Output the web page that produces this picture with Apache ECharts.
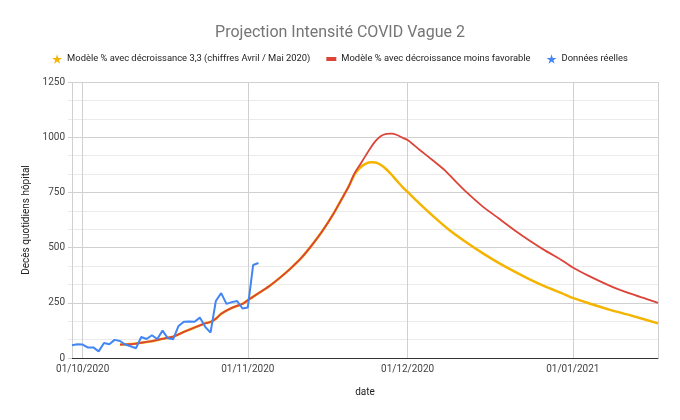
<!DOCTYPE html>
<html>
<head>
<meta charset="utf-8">
<script src="https://cdn.jsdelivr.net/npm/echarts@6/dist/echarts.min.js"></script>
<style>
  html, body { margin: 0; padding: 0; background: #fff; }
  #chart { width: 680px; height: 420px; }
</style>
</head>
<body>
<div id="chart"></div>
<script>
// observed data, one value per day starting 29/09/2020
const realStart = "2020-09-29";
const realValues = [
  58, 62, 61, 47, 48, 30, 68, 62, 82, 77, 61, 53, 44, 95, 86, 103, 86, 124,
  89, 85, 145, 164, 165, 164, 183, 141, 115, 258, 294, 245, 253, 258, 224,
  229, 421, 430,
];

// both models follow the same curve until ~20/11
const modelSharedDates = [
  "2020-10-08", "2020-10-10", "2020-10-12", "2020-10-14", "2020-10-16",
  "2020-10-18", "2020-10-20", "2020-10-22", "2020-10-24", "2020-10-25",
  "2020-10-26", "2020-10-27", "2020-10-29", "2020-10-31", "2020-11-01",
  "2020-11-03", "2020-11-05", "2020-11-07", "2020-11-09", "2020-11-11",
  "2020-11-13", "2020-11-15", "2020-11-17", "2020-11-19", "2020-11-20",
];
const modelSharedValues = [
  61, 63, 69, 76, 87, 97, 118, 138, 157, 163, 178, 200, 227, 245, 262, 293,
  325, 363, 405, 452, 510, 575, 650, 736, 780,
];

const yellowTailDates = [
  "2020-11-21", "2020-11-22", "2020-11-23", "2020-11-24", "2020-11-25",
  "2020-11-26", "2020-11-27", "2020-11-28", "2020-11-29", "2020-11-30",
  "2020-12-01", "2020-12-03", "2020-12-06", "2020-12-09", "2020-12-12",
  "2020-12-15", "2020-12-18", "2020-12-21", "2020-12-24", "2020-12-27",
  "2020-12-30", "2021-01-01", "2021-01-04", "2021-01-08", "2021-01-12",
  "2021-01-17",
];
const yellowTailValues = [
  830, 860, 878, 886, 885, 874, 855, 830, 802, 775, 752, 705, 638, 576, 524,
  476, 432, 392, 355, 322, 293, 272, 248, 218, 192, 157,
];

const redTailDates = [
  "2020-11-21", "2020-11-22", "2020-11-23", "2020-11-24", "2020-11-25",
  "2020-11-26", "2020-11-27", "2020-11-28", "2020-11-29", "2020-11-30",
  "2020-12-01", "2020-12-03", "2020-12-06", "2020-12-08", "2020-12-10",
  "2020-12-12", "2020-12-15", "2020-12-18", "2020-12-21", "2020-12-24",
  "2020-12-27", "2020-12-30", "2021-01-01", "2021-01-04", "2021-01-08",
  "2021-01-12", "2021-01-17",
];
const redTailValues = [
  835, 873, 912, 950, 983, 1005, 1015, 1016, 1010, 998, 987, 948, 890, 850,
  800, 752, 688, 634, 580, 530, 484, 442, 410, 372, 327, 290, 250,
];

const yTicks = [0, 250, 500, 750, 1000, 1250];

const seriesNames = [
  "Modèle % avec décroissance 3,3 (chiffres Avril / Mai 2020)",
  "Modèle % avec décroissance moins favorable",
  "Données réelles",
];

const pair = (dates, values) => dates.map((d, i) => [d, values[i]]);

function dayAfter(start, n) {
  const d = new Date(start + "T00:00:00");
  d.setDate(d.getDate() + n);
  const mm = String(d.getMonth() + 1).padStart(2, "0");
  const dd = String(d.getDate()).padStart(2, "0");
  return d.getFullYear() + "-" + mm + "-" + dd;
}
const realDates = realValues.map((_, i) => dayAfter(realStart, i));

const starIcon =
  "path://M50,0 L61,35 L98,35 L68,57 L79,91 L50,70 L21,91 L32,57 L2,35 L39,35 Z";
const barIcon =
  "path://M0,3 L10,3 L10,7 L0,7 Z M0,0 L0.01,0 L0.01,0.01 Z M9.99,9.99 L10,9.99 L10,10 Z";

const font = "Roboto, 'Liberation Sans', Arial, sans-serif";
const chart = echarts.init(document.getElementById("chart"));

chart.setOption({
  animation: false,
  textStyle: { fontFamily: font },
  title: {
    text: "Projection Intensité COVID Vague 2",
    left: "center",
    top: 20,
    textStyle: { fontSize: 16, fontWeight: "normal", color: "#757575", fontFamily: font },
  },
  legend: {
    top: 49,
    left: "center",
    itemWidth: 10,
    itemHeight: 10,
    itemGap: 16,
    textStyle: { fontSize: 9.4, color: "#222", fontFamily: font },
    data: [
      { name: seriesNames[0], icon: starIcon, itemStyle: { color: "#f4b400" } },
      { name: seriesNames[1], icon: barIcon, itemStyle: { color: "#db4437" } },
      { name: seriesNames[2], icon: starIcon, itemStyle: { color: "#4285f4" } },
    ],
  },
  grid: { left: 72, right: 22, top: 82, bottom: 62, containLabel: false },
  xAxis: {
    type: "time",
    min: "2020-09-29",
    max: "2021-01-17",
    name: "date",
    nameLocation: "middle",
    nameGap: 29,
    nameTextStyle: { fontSize: 10, color: "#222" },
    axisLine: { lineStyle: { color: "#333", width: 1 } },
    axisTick: { show: false },
    axisLabel: {
      fontSize: 10,
      color: "#444",
      margin: 6,
      hideOverlap: false,
      formatter: "{dd}/{MM}/{yyyy}",
    },
    splitNumber: 4,
    splitLine: { show: true, lineStyle: { color: "#d0d0d0" } },
  },
  yAxis: {
    type: "value",
    min: yTicks[0],
    max: yTicks[yTicks.length - 1],
    interval: 250,
    name: "Decès quotidiens hôpital",
    nameLocation: "middle",
    nameGap: 40,
    nameTextStyle: { fontSize: 10, color: "#222" },
    axisLine: { show: false },
    axisTick: { show: true, length: 4, lineStyle: { color: "#d0d0d0" } },
    minorTick: { show: true, splitNumber: 3, length: 4, lineStyle: { color: "#ebebeb" } },
    axisLabel: { fontSize: 10, color: "#444", margin: 7, formatter: (v) => String(v) },
    splitLine: { lineStyle: { color: "#d0d0d0" } },
    minorSplitLine: { show: true, lineStyle: { color: "#ebebeb" } },
  },
  series: [
    {
      name: seriesNames[0],
      type: "line",
      smooth: 0.2,
      symbol: "none",
      z: 2,
      data: pair(modelSharedDates, modelSharedValues).concat(
        pair(yellowTailDates, yellowTailValues)
      ),
      lineStyle: { color: "#f4b400", width: 2.5 },
      itemStyle: { color: "#f4b400" },
    },
    {
      name: seriesNames[1],
      type: "line",
      smooth: 0.2,
      symbol: "none",
      z: 3,
      data: pair(modelSharedDates, modelSharedValues).concat(
        pair(redTailDates, redTailValues)
      ),
      lineStyle: { color: "#db4437", width: 1.8 },
      itemStyle: { color: "#db4437" },
    },
    {
      name: seriesNames[2],
      type: "line",
      symbol: "none",
      z: 4,
      data: pair(realDates, realValues),
      lineStyle: { color: "#4285f4", width: 2 },
      itemStyle: { color: "#4285f4" },
    },
  ],
});
</script>
</body>
</html>
